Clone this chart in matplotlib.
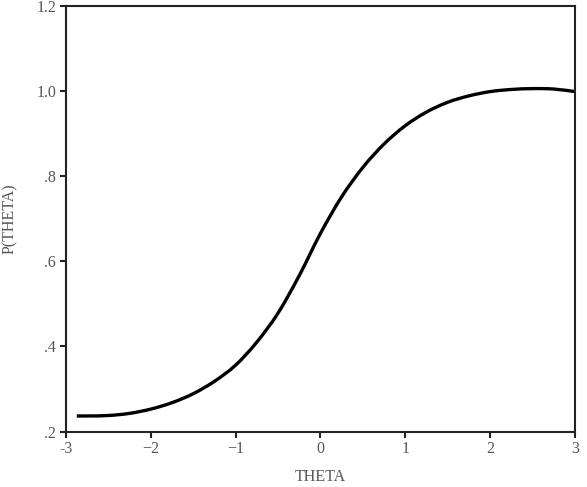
import matplotlib
matplotlib.use("Agg")
import matplotlib.pyplot as plt
from matplotlib.path import Path
from matplotlib.patches import PathPatch

theta = [-2.87, -2.75, -2.5, -2.25, -2.0, -1.75, -1.5, -1.25, -1.0, -0.75, -0.5, -0.25,
         0.0, 0.25, 0.5, 0.75, 1.0, 1.25, 1.5, 1.75, 2.0, 2.25, 2.5, 2.75, 3.0]
p_theta = [0.237, 0.237, 0.238, 0.243, 0.253, 0.268, 0.289, 0.318, 0.356, 0.410, 0.478, 0.566,
           0.665, 0.751, 0.820, 0.875, 0.918, 0.950, 0.973, 0.988, 0.998, 1.003, 1.005, 1.004, 0.998]

x_ticks = [-3, -2, -1, 0, 1, 2, 3]
x_ticklabels = ["-3", "\u22122", "\u22121", "0", "1", "2", "3"]
y_ticks = [0.2, 0.4, 0.6, 0.8, 1.0, 1.2]
y_ticklabels = [".2", ".4", ".6", ".8", "1.0", "1.2"]

plt.rcParams['font.family'] = ['Liberation Serif', 'DejaVu Serif']


def smooth_path(xs, ys):
    # Catmull-Rom spline through the read points, drawn as cubic Bezier segments
    verts = [(xs[0], ys[0])]
    codes = [Path.MOVETO]
    n = len(xs)
    for i in range(n - 1):
        x0, y0 = (xs[i - 1], ys[i - 1]) if i > 0 else (xs[i], ys[i])
        x1, y1 = xs[i], ys[i]
        x2, y2 = xs[i + 1], ys[i + 1]
        x3, y3 = (xs[i + 2], ys[i + 2]) if i + 2 < n else (xs[i + 1], ys[i + 1])
        c1 = (x1 + (x2 - x0) / 6.0, y1 + (y2 - y0) / 6.0)
        c2 = (x2 - (x3 - x1) / 6.0, y2 - (y3 - y1) / 6.0)
        verts += [c1, c2, (x2, y2)]
        codes += [Path.CURVE4] * 3
    return Path(verts, codes)


fig = plt.figure(figsize=(5.87, 4.87), dpi=100)
ax = fig.add_axes([0.112, 0.1135, 0.8676, 0.8752])
ax.add_patch(PathPatch(smooth_path(theta, p_theta), facecolor='none',
                       edgecolor='black', linewidth=2.4, capstyle='butt'))
ax.set_xlim(-3, 3)
ax.set_ylim(0.2, 1.2)
ax.set_xticks(x_ticks)
ax.set_xticklabels(x_ticklabels)
ax.set_yticks(y_ticks)
ax.set_yticklabels(y_ticklabels)
for s in ax.spines.values():
    s.set_linewidth(1.5)
    s.set_color('#222222')
ax.tick_params(direction='out', length=4, width=1.5, color='#222222',
               labelsize=11.5, labelcolor='#555555', pad=3)
ax.set_xlabel('THETA', fontsize=11.5, color='#555555', labelpad=8)
ax.set_ylabel('P(THETA)', fontsize=11.5, color='#555555', labelpad=13)
fig.savefig('out.png', dpi=100)
